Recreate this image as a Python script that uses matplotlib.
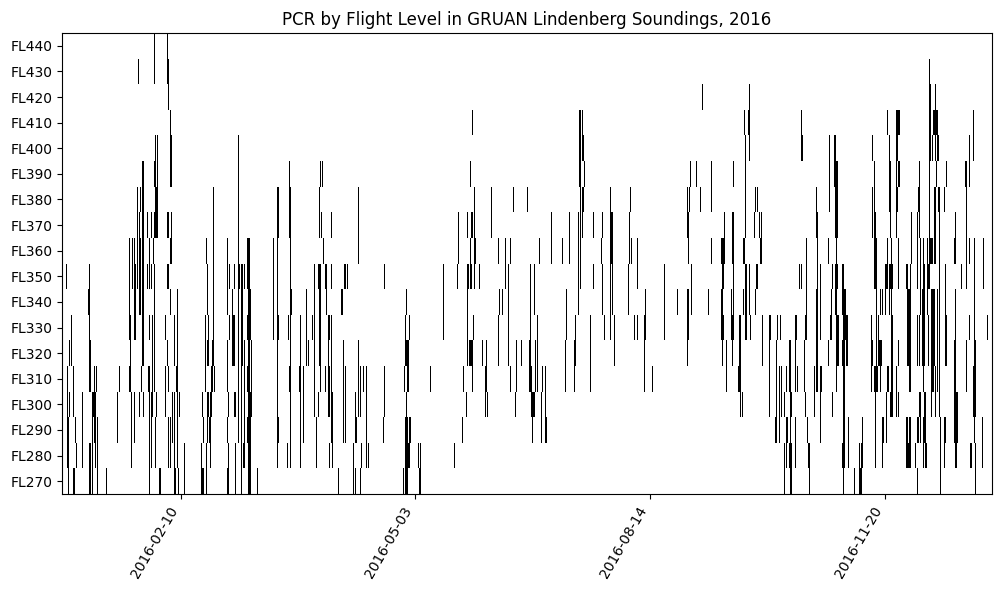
from matplotlib import pyplot as plt
import numpy as np

N_COLS = 930
FLIGHT_LEVELS = list(range(270, 450, 10))
TICK_COLS = [118.4, 352.4, 587.4, 822.4]
TICK_DATES = ["2016-02-10", "2016-05-03", "2016-08-14", "2016-11-20"]

# each run: first column, last column, top FL, bottom FL
runs_jan = [(4,4,350,350),(5,5,310,280),(6,6,290,270),(7,7,320,320),(7,7,300,300),(9,9,330,320),(11,11,310,300),
    (11,12,270,270),(13,13,290,290),(14,14,280,280),(20,20,300,280),(27,27,350,330),(26,27,340,340),(27,28,320,310),
    (27,28,280,270),(30,30,300,270),(31,33,300,300),(32,32,310,310),(34,34,310,310),(32,33,290,290),(33,33,280,280),
    (35,35,290,270),(44,44,270,270),(55,55,300,290),(57,57,310,310),(67,67,360,340),(67,68,330,330),(68,68,320,320),
    (67,68,310,310),(69,69,300,280),(70,70,360,350),(72,72,360,360),(72,73,350,330),(72,72,300,290),(75,75,380,350),
    (76,76,430,430),(77,77,370,360),(77,78,360,340),(77,77,300,300),(78,78,380,380),(79,79,310,310),(80,81,390,320),
    (81,81,300,300),(85,85,370,370),(85,85,350,350),(86,87,310,310),(87,87,360,350),(87,87,330,330),(87,87,300,270),
    (89,89,370,370),(89,89,350,350),(89,89,300,280),(90,90,330,300),(91,91,360,360),(92,92,350,310),(92,92,440,430),
    (92,93,390,390),(93,93,400,380),(92,95,370,370),(94,95,380,370),(95,95,400,390),(93,93,290,280),(94,94,300,300),
    (97,98,270,270),(103,103,330,330),(103,103,310,300),(105,105,440,430),(105,106,370,370),(105,106,350,350),
    (105,105,320,320),(106,106,430,420),(106,106,310,310),(108,108,410,410),(108,109,400,390),(108,109,360,360),
    (108,108,340,340),(106,106,290,280),(108,108,290,280),(109,109,370,370),(110,110,300,290),(112,112,330,320),
    (112,112,300,280),(112,113,270,270),(114,115,310,310),(115,115,340,320),(115,115,300,280),(116,116,270,270),
    (117,117,300,300),(122,122,280,270)]

runs_feb = [(139,141,270,270),(139,139,280,280),(140,140,300,300),(141,141,290,290),(143,143,330,310),(144,144,360,360),
    (144,144,280,270),(145,145,350,340),(145,146,320,320),(145,146,300,300),(145,145,290,290),(146,146,330,330),
    (148,149,300,300),(147,148,290,290),(148,148,280,280),(149,150,310,310),(150,151,320,320),(151,151,380,320),
    (152,152,310,310),(165,165,360,340),(165,165,320,310),(165,165,290,290),(165,166,270,270),(166,166,300,300),
    (166,166,280,280),(167,167,350,350),(167,167,330,330),(170,170,340,340),(170,172,330,320),(172,172,350,350),
    (172,173,300,300),(173,173,280,270),(176,176,400,290),(176,177,350,350),(179,180,350,320),(179,179,310,270),
    (181,182,280,280),(182,182,350,350),(182,182,320,290),(185,187,360,350),(186,188,340,340),(185,188,330,330),
    (186,187,320,320),(185,187,310,310),(186,189,300,300),(185,188,290,290),(186,188,280,270),(189,189,320,310),
    (195,195,270,270),(211,211,360,330),(215,216,380,370),(215,215,360,280),(215,216,330,330),(215,216,290,290),
    (225,225,280,280),(226,226,330,330),(227,227,390,370),(227,228,380,370),(227,227,310,310),(228,228,360,280),
    (228,229,340,340),(237,238,310,310),(238,238,330,320),(238,238,300,280),(241,241,310,290),(244,244,340,320),
    (246,246,320,320),(250,250,330,330),(252,252,350,300)]

runs_apr = [(254,254,290,280),(256,256,350,350),(256,256,300,300),(257,257,380,370),(257,258,350,320),(258,258,310,310),
    (258,258,390,390),(260,260,390,390),(259,259,370,370),(261,261,360,360),(263,263,350,350),(263,263,310,310),
    (264,264,350,340),(266,267,330,330),(266,266,320,300),(267,267,310,300),(267,267,280,280),(269,269,370,370),
    (269,269,350,350),(269,269,330,310),(269,270,300,290),(270,270,280,280),(276,276,270,270),(279,280,340,340),
    (281,281,320,290),(282,283,350,350),(283,283,310,290),(285,285,350,350),(291,291,280,270),(293,293,300,300),
    (293,294,290,290),(293,293,270,270),(296,296,380,360),(296,296,320,300),(298,298,310,300),(298,298,270,270),
    (299,299,280,280),(301,301,310,310),(304,304,310,280),(306,306,280,280),(321,321,290,290),(322,322,350,350),
    (322,322,310,300),(341,341,270,270),(342,342,310,310),(343,343,330,330),(343,346,320,320),(344,344,340,340),
    (344,344,300,300),(343,345,290,270),(345,346,310,310),(345,347,280,280),(347,347,330,330),(347,348,290,290),
    (356,356,280,280),(357,358,270,270),(358,358,280,280),(368,368,310,310)]

runs_jun = [(381,381,350,330),(392,392,280,280),(395,395,350,350),(396,396,370,360),(400,400,290,290),(401,401,310,310),
    (404,404,300,300),(405,405,370,370),(405,406,350,350),(405,405,340,320),(407,410,320,320),(408,408,390,390),
    (408,408,360,360),(408,409,350,350),(409,410,370,370),(410,410,410,410),(410,410,310,310),(411,411,330,330),
    (412,412,380,350),(413,413,360,360),(417,417,350,350),(420,420,320,320),(423,424,310,310),(423,423,300,300),
    (425,425,300,300),(424,424,320,320),(429,429,380,370),(436,436,360,360),(436,436,330,320),(437,437,340,340),
    (440,440,340,340),(443,443,360,350),(446,446,350,320),(448,448,360,360),(448,448,310,310),(451,451,380,380),
    (453,453,300,300),(454,454,320,310),(459,459,320,320),(465,465,380,380),(468,468,350,330),(467,468,320,310),
    (469,469,310,310),(469,472,300,300),(470,470,290,290),(472,472,350,340),(473,473,320,310),(475,475,330,310),
    (477,477,360,360),(479,479,300,290),(480,480,310,310),(483,483,310,300),(483,484,290,290),(489,489,370,360),
    (500,500,360,360)]

runs_aug = [(503,503,320,310),(504,504,340,330),(507,507,370,360),(512,513,320,320),(512,512,310,310),(513,513,330,330),
    (516,516,370,340),(517,518,410,390),(518,518,380,350),(520,520,410,410),(520,521,400,400),(522,522,390,390),
    (520,521,380,380),(520,520,370,370),(528,528,330,310),(531,531,370,370),(531,531,350,350),(539,539,360,360),
    (540,540,370,370),(540,540,350,340),(542,542,330,330),(548,548,380,380),(548,550,370,360),(548,548,350,330),
    (550,550,350,340),(552,552,330,320),(566,566,350,340),(567,567,370,360),(568,568,380,380),(569,569,360,360),
    (572,572,330,330),(575,575,360,350),(575,575,330,330),(582,583,330,330),(582,582,320,310),(583,583,340,340),
    (590,590,310,310),(602,602,350,330),(615,615,340,340),(625,625,380,380),(625,626,370,370),(626,626,360,360),
    (627,627,380,380),(625,626,340,330),(625,625,320,320)]

runs_sep = [(628,628,390,390),(629,629,350,340),(634,634,390,390),(638,638,380,380),(640,640,420,420),(646,646,340,340),
    (649,649,390,380),(649,649,360,360),(659,662,360,360),(660,661,350,350),(659,660,340,340),(659,661,330,330),
    (660,660,320,320),(662,662,370,370),(664,664,320,310),(669,669,340,340),(669,671,330,330),(670,670,320,320),
    (670,671,370,360),(671,671,350,340),(671,671,390,390),(676,676,310,310),(677,678,330,330),(677,677,320,310),
    (678,678,320,300),(680,680,300,300),(681,681,340,340),(681,682,360,360),(682,682,410,410),(683,683,400,370),
    (683,684,350,330),(686,687,410,410),(687,687,420,420),(687,687,400,400),(687,687,350,340),(688,688,330,330),
    (692,692,370,370),(693,693,380,380),(693,693,340,340),(694,694,350,350),(695,695,380,380),(695,695,350,350),
    (697,697,370,370),(698,699,360,360),(699,699,370,370),(700,700,330,320),(707,708,330,330),(707,707,320,300),
    (713,714,290,290),(714,714,320,300),(715,715,330,330),(717,717,310,290),(718,718,330,330),(719,719,310,300),
    (722,722,300,300),(722,722,280,270),(724,724,310,310),(724,725,290,290),(724,724,280,280),(727,728,320,310),
    (727,729,280,280),(728,729,270,270),(728,728,300,290),(729,729,300,300),(733,733,290,280),(733,734,330,330),
    (733,733,320,310),(735,735,310,310),(737,737,350,350),(739,739,350,350),(739,739,410,410),(739,740,400,400),
    (742,742,320,310),(743,744,330,330),(743,743,300,300),(744,744,360,340),(745,745,290,290),(746,747,280,280),
    (747,747,270,270),(752,752,310,300)]

runs_nov = [(754,754,380,380),(754,755,370,370),(755,755,360,350),(754,755,340,310),(758,758,350,330),(758,759,310,310),
    (758,758,300,290),(766,766,360,360),(766,766,320,320),(767,767,400,380),(769,769,340,340),(768,769,330,330),
    (770,770,350,350),(770,770,300,300),(772,773,400,400),(772,775,390,390),(773,775,380,370),(774,774,360,360),
    (773,775,350,350),(773,774,340,340),(774,776,330,320),(774,774,310,310),(780,781,350,350),(780,783,340,340),
    (781,785,330,330),(780,782,320,320),(784,785,320,320),(781,782,310,290),(780,782,280,280),(781,781,270,270),
    (786,786,290,280),(792,792,270,270),(797,799,270,270),(797,797,280,280),(799,800,280,280),(800,800,290,290),
    (809,809,330,310),(809,810,320,320),(810,810,400,400),(810,810,380,370),(812,812,390,380),(812,813,370,370),
    (812,814,360,350),(812,815,310,310),(813,813,300,280),(814,814,340,320),(816,819,320,320),(816,816,330,330),
    (818,818,340,340),(818,818,310,310),(820,820,340,340),(820,820,280,280),(820,821,290,290),(823,823,340,340),
    (823,825,350,350),(824,824,300,290),(825,825,360,360),(825,825,410,410),(825,826,310,310),(827,827,400,380),
    (827,828,390,380),(828,828,370,370),(827,830,350,350),(827,827,340,340),(829,829,360,310),(829,830,330,320),
    (828,830,300,300),(830,830,320,310),(834,837,410,410),(834,834,400,390),(834,835,380,380),(834,834,370,370),
    (835,835,400,400),(836,837,390,390),(836,836,360,350),(836,836,320,320),(834,834,310,300),(836,836,300,300)]

runs_dec = [(844,845,350,350),(845,848,340,320),(847,848,310,310),(844,848,280,280),(844,845,290,290),(847,848,290,290),
    (848,848,350,350),(849,849,370,360),(853,853,280,280),(855,855,270,270),(855,855,370,350),(855,855,330,320),
    (855,856,290,290),(856,857,380,380),(857,857,390,390),(857,857,370,370),(858,858,360,340),(857,857,330,320),
    (857,858,300,300),(858,858,290,290),(860,862,340,320),(861,861,360,360),(861,862,350,350),(861,861,310,310),
    (862,862,300,300),(861,863,290,290),(861,861,280,280),(863,863,280,280),(864,864,280,280),(863,863,300,300),
    (865,865,360,340),(865,867,350,350),(866,866,330,320),(867,867,430,370),(867,870,360,360),(868,868,420,400),
    (870,870,400,400),(869,869,340,300),(870,871,340,310),(872,872,340,320),(873,873,420,420),(871,875,410,410),
    (873,873,400,400),(874,874,390,390),(872,873,380,360),(873,873,310,300),(875,875,340,310),(875,876,400,400),
    (876,877,380,380),(877,877,370,300),(878,878,290,270),(882,882,380,380),(882,883,290,290),(882,882,280,280),
    (883,883,350,340),(883,884,330,320),(884,884,390,390),(892,893,360,360),(893,893,370,370),(893,893,340,330),
    (892,893,320,310),(892,895,300,290),(893,894,280,280),(899,899,350,350),(903,904,390,390),(904,904,380,350),
    (904,904,320,310),(907,907,400,390),(907,907,360,360),(907,907,330,330),(908,909,280,280),(911,911,410,400),
    (912,912,360,330),(912,913,320,320),(911,913,310,300),(912,912,290,290),(913,913,280,270),(920,920,290,280),
    (921,921,360,350),(925,925,330,330)]

grid = np.zeros((len(FLIGHT_LEVELS), N_COLS))
for runs in [runs_jan, runs_feb, runs_apr, runs_jun, runs_aug, runs_sep, runs_nov, runs_dec]:
    for first, last, top, bottom in runs:
        for fl in range(bottom, top + 10, 10):
            grid[FLIGHT_LEVELS.index(fl), first:last + 1] = 1

fig = plt.figure(figsize=(10.01, 5.9), dpi=100)
ax = fig.add_axes([62 / 1001, 96 / 590, 930 / 1001, 461 / 590])
ax.imshow(grid, cmap="gray_r", vmin=0, vmax=1, origin="lower", aspect="auto", interpolation="nearest")

ax.set_yticks(range(len(FLIGHT_LEVELS)))
ax.set_yticklabels([f"FL{fl}" for fl in FLIGHT_LEVELS])
ax.set_xticks(TICK_COLS)
ax.set_xticklabels(TICK_DATES, rotation=60, ha="right")
ax.set_title("PCR by Flight Level in GRUAN Lindenberg Soundings, 2016")

fig.savefig("out.png", dpi=100)
